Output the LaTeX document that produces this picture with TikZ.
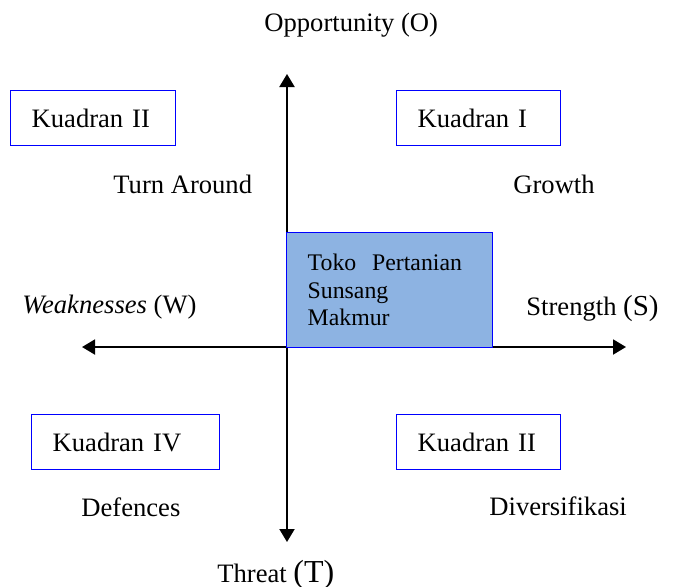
\documentclass[tikz,border=0pt]{standalone}
\usepackage{fontspec}
\setmainfont{Liberation Serif}
\usepackage{tikz}
\usepackage{xcolor}
\usetikzlibrary{positioning, arrows.meta}
\definecolor{isi}{RGB}{141,179,226}

\begin{document}
\begin{tikzpicture}[x=0.5pt, y=-0.5pt, >={Triangle[length=6.5pt,width=7.5pt]},
        kuadran/.style={draw=blue, line width=0.7pt, inner xsep=10.5pt, inner ysep=0pt, minimum height=27.5pt, align=left, anchor=north west, font=\fontsize{13.3}{16}\selectfont},
        teks/.style={inner sep=0pt, anchor=base west, font=\fontsize{13.3}{16}\selectfont}]
        \useasboundingbox (0,0) rectangle (673,586);
        % sumbu
        \coordinate (atas) at (287,74);
        \coordinate (bawah) at (287,542);
        \coordinate (kiri) at (82,347);
        \coordinate (kanan) at (626,347);
        \draw[<->, line width=1pt] (bawah) -- (atas);
        \draw[<->, line width=1pt] (kiri) -- (kanan);
        % kuadran
        \node[kuadran, text width=61.5pt] at (10,90) (K2) {Kuadran II};
        \node[kuadran, text width=61pt] at (396,90) (K1) {Kuadran I};
        \node[kuadran, text width=73pt] at (31,414) (K4) {Kuadran IV};
        \node[kuadran, text width=61pt] at (396,414) (K3) {Kuadran II};
        \node[kuadran, fill=isi, text width=82pt, minimum height=57.5pt, font=\fontsize{11.9}{13.75}\selectfont] at (286,232) (toko) {Toko~~Pertanian\\Sunsang\\Makmur};
        % label
        \node[teks] at (264,31) (O) {Opportunity (O)};
        \node[teks] at (217,582) (T) {Threat {\fontsize{16}{18}\selectfont(T)}};
        \node[teks] at (22,313) (W) {\textit{Weaknesses} (W)};
        \node[teks] at (526,315) (S) {Strength {\fontsize{14.5}{17}\selectfont(S)}};
        \node[teks] at (113,193) (turn) {Turn Around};
        \node[teks] at (513,193) (grow) {Growth};
        \node[teks] at (81,516) (def) {Defences};
        \node[teks] at (489,515) (div) {Diversifikasi};
\end{tikzpicture}
\end{document}
